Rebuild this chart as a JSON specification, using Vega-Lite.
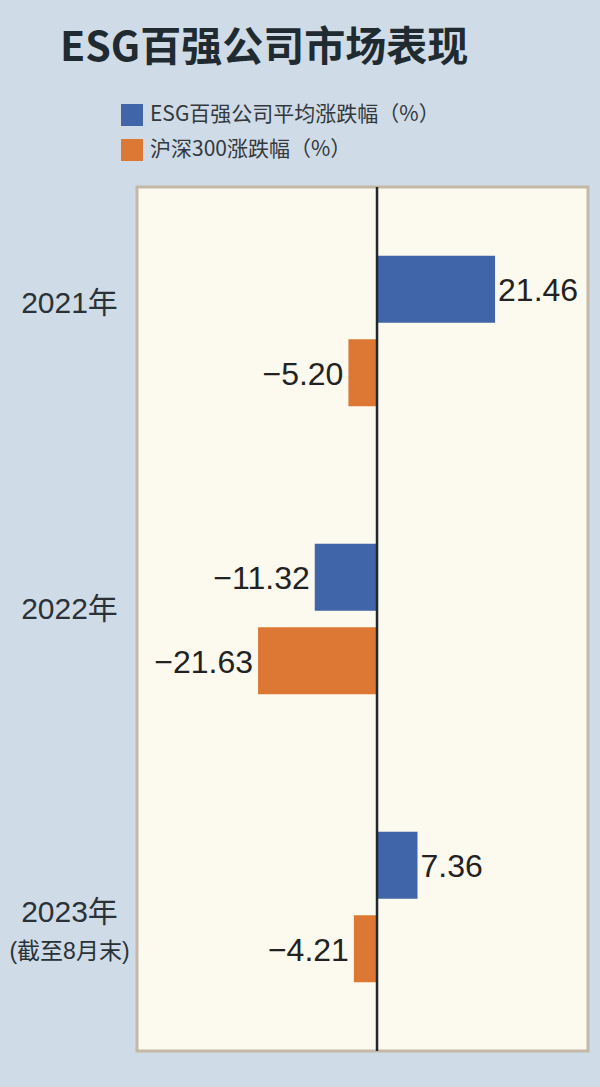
{
  "$schema": "https://vega.github.io/schema/vega-lite/v6.json",
  "width": 451,
  "height": 864,
  "autosize": {"type": "none"},
  "padding": {"left": 137, "top": 187, "right": 12, "bottom": 36},
  "background": "#cfdbe7",
  "title": {
    "text": "ESG百强公司市场表现",
    "anchor": "start",
    "frame": "group",
    "dx": -77,
    "offset": 34,
    "fontSize": 41,
    "font": "Noto Sans CJK SC",
    "fontWeight": "bold",
    "color": "#1f2b31"
  },
  "config": {
    "view": {"fill": "#fcf9ef", "stroke": "#c4b8a6", "strokeWidth": 3}
  },
  "data": {
    "values": [
      {"year": "2021", "series": "ESG百强公司平均涨跌幅（%）", "value": 21.46},
      {"year": "2021", "series": "沪深300涨跌幅（%）", "value": -5.20},
      {"year": "2022", "series": "ESG百强公司平均涨跌幅（%）", "value": -11.32},
      {"year": "2022", "series": "沪深300涨跌幅（%）", "value": -21.63},
      {"year": "2023", "series": "ESG百强公司平均涨跌幅（%）", "value": 7.36},
      {"year": "2023", "series": "沪深300涨跌幅（%）", "value": -4.21}
    ]
  },
  "layer": [
    {
      "mark": {"type": "bar"},
      "encoding": {
        "y": {
          "field": "year",
          "type": "nominal",
          "sort": ["2021", "2022", "2023"],
          "scale": {"paddingInner": 0, "paddingOuter": 0},
          "axis": {
            "domain": false,
            "ticks": false,
            "tickSize": 0,
            "labelExpr": "datum.value + '年'",
            "labelFont": "'Liberation Sans', 'Noto Sans CJK SC'",
            "labelFontSize": 30,
            "labelColor": "#2a3238",
            "labelAlign": "center",
            "labelBaseline": "middle",
            "labelPadding": 68,
            "labelOffset": {
              "condition": [
                {"test": "datum.value === '2021'", "value": -27},
                {"test": "datum.value === '2022'", "value": -9}
              ],
              "value": 6
            },
            "title": "(截至8月末)",
            "titleAngle": 0,
            "titleX": -68,
            "titleY": 764,
            "titleAlign": "center",
            "titleBaseline": "middle",
            "titleFont": "'Liberation Sans', 'Noto Sans CJK SC'",
            "titleFontSize": 23,
            "titleFontWeight": "normal",
            "titleColor": "#2a3238"
          }
        },
        "yOffset": {
          "field": "series",
          "type": "nominal",
          "sort": ["ESG百强公司平均涨跌幅（%）", "沪深300涨跌幅（%）"],
          "scale": {"paddingInner": 0.2, "paddingOuter": 0.82}
        },
        "x": {
          "field": "value",
          "type": "quantitative",
          "scale": {"domain": [-43.64, 38.36], "nice": false, "zero": false},
          "axis": null
        },
        "color": {
          "field": "series",
          "type": "nominal",
          "scale": {
            "domain": ["ESG百强公司平均涨跌幅（%）", "沪深300涨跌幅（%）"],
            "range": ["#4065a8", "#dd7834"]
          },
          "legend": {
            "orient": "none",
            "legendX": -16,
            "legendY": -83,
            "title": null,
            "padding": 0,
            "direction": "vertical",
            "symbolType": "square",
            "symbolSize": 484,
            "symbolStrokeWidth": 0,
            "symbolOpacity": 1,
            "labelFont": "Noto Sans CJK SC",
            "labelFontSize": 21,
            "labelColor": "#33393d",
            "labelOffset": 7,
            "labelLimit": 500,
            "rowPadding": 13
          }
        }
      }
    },
    {
      "transform": [{"filter": "datum.value >= 0"}],
      "mark": {"type": "text", "align": "left", "baseline": "middle", "dx": 3, "dy": 2, "font": "Liberation Sans", "fontSize": 32, "color": "#222"},
      "encoding": {
        "y": {"field": "year", "type": "nominal", "sort": ["2021", "2022", "2023"]},
        "yOffset": {"field": "series", "type": "nominal", "sort": ["ESG百强公司平均涨跌幅（%）", "沪深300涨跌幅（%）"]},
        "x": {"field": "value", "type": "quantitative"},
        "text": {"field": "value", "type": "quantitative", "format": ".2f"}
      }
    },
    {
      "transform": [{"filter": "datum.value < 0"}],
      "mark": {"type": "text", "align": "right", "baseline": "middle", "dx": -5, "dy": 2, "font": "Liberation Sans", "fontSize": 32, "color": "#222"},
      "encoding": {
        "y": {"field": "year", "type": "nominal", "sort": ["2021", "2022", "2023"]},
        "yOffset": {"field": "series", "type": "nominal", "sort": ["ESG百强公司平均涨跌幅（%）", "沪深300涨跌幅（%）"]},
        "x": {"field": "value", "type": "quantitative"},
        "text": {"field": "value", "type": "quantitative", "format": ".2f"}
      }
    },
    {
      "data": {"values": [{"zero": 0}]},
      "mark": {"type": "rule", "color": "#1f2a2c", "strokeWidth": 2.5},
      "encoding": {
        "x": {"field": "zero", "type": "quantitative"}
      }
    }
  ]
}
